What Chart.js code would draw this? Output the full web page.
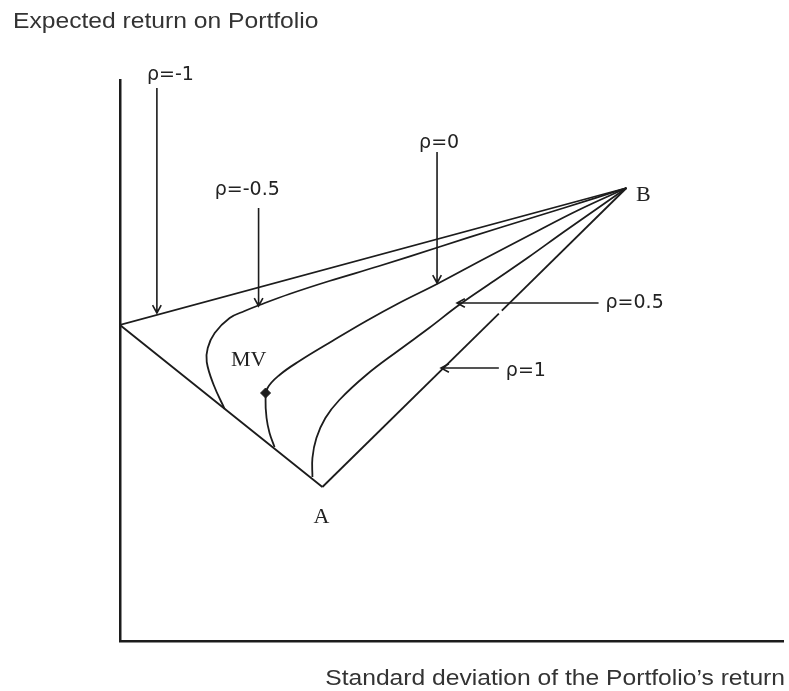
<!DOCTYPE html>
<html>
<head>
<meta charset="utf-8">
<script src="https://cdn.jsdelivr.net/npm/chart.js@4.4.1/dist/chart.umd.min.js"></script>
<style>
  html, body { margin: 0; padding: 0; background: #fff; }
  #wrap { width: 789px; height: 691px; }
</style>
</head>
<body>
<div id="wrap"><canvas id="frontier" width="789" height="691"></canvas></div>
<script>
// x = std deviation, y = expected return (arbitrary units)
const pointA = [10.15, 7.7];
const pointB = [25.4, 22.65];
const pointZeroRisk = [0, 15.8];
const pointMV = [7.3, 12.4];

const rhoMinus1 = [pointA, pointZeroRisk, pointB];
// the rho=1 line has a small break in the scan
const rhoPlus1 = [pointA, [19.0, 16.37], [19.15, 16.52], pointB];
const rhoMinusHalf = [
  [5.25, 11.6], [4.7, 12.8], [4.35, 13.95], [4.4, 14.65], [4.75, 15.4],
  [5.5, 16.15], [6.25, 16.5], [7.0, 16.8], [8.5, 17.35], [10.5, 18.0],
  [13.0, 18.75], [16.0, 19.7], [19.0, 20.65], [22.25, 21.65], pointB,
];
const rhoZero = [
  [7.75, 9.7], [7.5, 10.4], [7.35, 11.15], [7.3, 12.05], [7.4, 12.65],
  [8.0, 13.3], [9.0, 14.0], [10.65, 15.0], [12.35, 16.0], [14.0, 16.9],
  [15.9, 17.85], [18.25, 19.1], [20.65, 20.35], [23.0, 21.55], pointB,
];
const rhoHalf = [
  [9.65, 8.2], [9.65, 9.15], [9.85, 10.15], [10.3, 11.15], [11.0, 12.05],
  [12.35, 13.3], [14.0, 14.55], [15.5, 15.65], [17.0, 16.8], [18.75, 18.0],
  [20.5, 19.2], [22.25, 20.45], [23.9, 21.6], pointB,
];

// callouts: label, label anchor, arrow tail -> arrow tip (data units)
const callouts = [
  { text: "ρ=-1", at: [1.35, 28.3], from: [1.85, 27.65], to: [1.85, 16.4] },
  { text: "ρ=-0.5", at: [4.75, 22.55], from: [6.95, 21.65], to: [6.95, 16.75] },
  { text: "ρ=0", at: [15.0, 24.9], from: [15.9, 24.45], to: [15.9, 17.9] },
  { text: "ρ=0.5", at: [24.35, 16.9], from: [24.0, 16.9], to: [16.9, 16.9] },
  { text: "ρ=1", at: [19.35, 13.5], from: [19.0, 13.65], to: [16.1, 13.65] },
];
const pointLabels = [
  { text: "MV", at: [6.45, 14.05] },
  { text: "A", at: [10.1, 6.2] },
  { text: "B", at: [26.25, 22.3] },
];

const INK = "#1c1c1c";
const toXY = (arr) => arr.map(([x, y]) => ({ x, y }));

function curve(data, tension) {
  return {
    data: toXY(data),
    showLine: true,
    borderColor: INK,
    borderWidth: 1.8,
    pointRadius: 0,
    tension,
  };
}

function stretchedText(ctx, text, px, py, align, sx) {
  ctx.save();
  ctx.translate(px, py);
  ctx.scale(sx, 1);
  ctx.textAlign = align;
  ctx.fillText(text, 0, 0);
  ctx.restore();
}

const overlay = {
  id: "overlay",
  afterDraw(chart) {
    const { ctx } = chart;
    const sx = chart.scales.x, sy = chart.scales.y;
    const px = (p) => [sx.getPixelForValue(p[0]), sy.getPixelForValue(p[1])];

    ctx.save();
    ctx.strokeStyle = INK;
    ctx.lineWidth = 1.6;
    ctx.fillStyle = "#222";
    ctx.textBaseline = "middle";
    ctx.font = '19px "DejaVu Sans"';

    callouts.forEach((c) => {
      const [x0, y0] = px(c.from);
      const [x1, y1] = px(c.to);
      ctx.beginPath();
      ctx.moveTo(x0, y0);
      ctx.lineTo(x1, y1);
      const ang = Math.atan2(y1 - y0, x1 - x0);
      const len = 9;
      ctx.moveTo(x1 - len * Math.cos(ang - 0.5), y1 - len * Math.sin(ang - 0.5));
      ctx.lineTo(x1, y1);
      ctx.lineTo(x1 - len * Math.cos(ang + 0.5), y1 - len * Math.sin(ang + 0.5));
      ctx.stroke();

      const [lx, ly] = px(c.at);
      ctx.textAlign = "left";
      ctx.fillText(c.text, lx, ly);
    });

    ctx.font = '22px "Liberation Serif"';
    ctx.textAlign = "center";
    pointLabels.forEach((l) => {
      const [lx, ly] = px(l.at);
      ctx.fillText(l.text, lx, ly);
    });

    // axis titles (reference text is a bit wide, so stretch horizontally)
    ctx.fillStyle = "#333";
    ctx.font = '22px "Liberation Sans"';
    stretchedText(ctx, "Expected return on Portfolio", 13, 22, "left", 1.12);
    stretchedText(ctx, "Standard deviation of the Portfolio\u2019s return", 785, 679, "right", 1.12);
    ctx.restore();
  },
};

const plus1 = curve(rhoPlus1, 0);
plus1.segment = {
  borderColor: (c) => (c.p0DataIndex === 1 ? "rgba(0,0,0,0)" : INK),
};

new Chart(document.getElementById("frontier").getContext("2d"), {
  type: "scatter",
  data: {
    datasets: [
      curve(rhoMinus1, 0),
      plus1,
      curve(rhoMinusHalf, 0.4),
      curve(rhoZero, 0.4),
      curve(rhoHalf, 0.4),
      {
        data: toXY([pointMV]),
        pointStyle: "rectRot",
        pointRadius: 5,
        backgroundColor: INK,
        borderColor: INK,
      },
    ],
  },
  options: {
    responsive: false,
    animation: false,
    layout: { padding: { left: 120, top: 80, right: 4, bottom: 50 } },
    plugins: { legend: { display: false }, tooltip: { enabled: false } },
    scales: {
      x: {
        type: "linear",
        min: 0,
        max: 33.25,
        grid: { display: false },
        ticks: { display: false },
        border: { display: true, color: INK, width: 2.5 },
        afterFit: (s) => { s.height = 0; },
      },
      y: {
        type: "linear",
        min: 0,
        max: 28.05,
        grid: { display: false },
        ticks: { display: false },
        border: { display: true, color: INK, width: 2.5 },
        afterFit: (s) => { s.width = 0; },
      },
    },
  },
  plugins: [overlay],
});
</script>
</body>
</html>
